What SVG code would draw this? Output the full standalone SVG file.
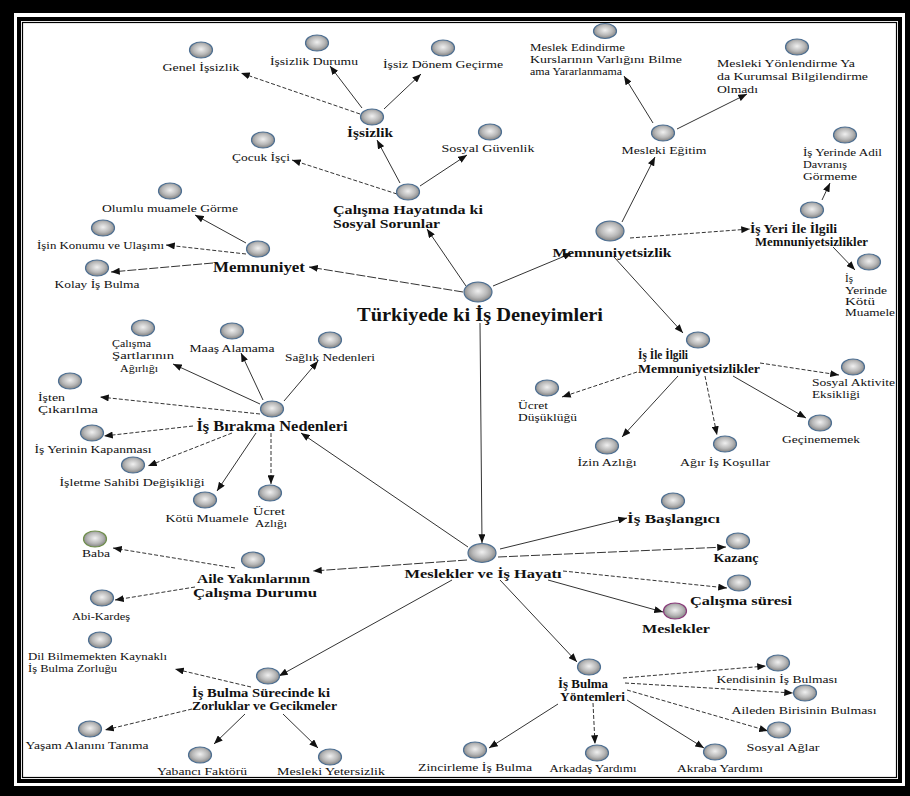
<svg xmlns="http://www.w3.org/2000/svg" width="910" height="796" viewBox="0 0 910 796">
<defs>
<radialGradient id="g" cx="50%" cy="45%" r="60%">
<stop offset="0" stop-color="#f0f0f0"/>
<stop offset="0.55" stop-color="#b8b8b8"/>
<stop offset="1" stop-color="#767676"/>
</radialGradient>
<marker id="ah" viewBox="0 0 10 8" refX="10" refY="4" markerWidth="9" markerHeight="7" markerUnits="userSpaceOnUse" orient="auto"><path d="M0,0 L10,4 L0,8 z" fill="#111"/></marker>
<style>
.n ellipse{fill:url(#g);stroke:#4d6f92;stroke-width:1.2}
text{font-family:"Liberation Serif","Times New Roman",serif;fill:#111}
.t{font-size:11px}
.b{font-size:12.5px;font-weight:bold}
.bs{font-size:11.5px;font-weight:bold}
.bm{font-size:14px;font-weight:bold}
.tt{font-size:18px;font-weight:bold}
.m{text-anchor:middle}
.e path{stroke:#333;stroke-width:1;fill:none;marker-end:url(#ah)}
.e path.d{stroke-dasharray:4 2}
.e path.dl{stroke-dasharray:9 2}
</style>
</defs>
<rect width="910" height="796" fill="#000"/>
<rect x="14" y="13" width="891" height="773" fill="#fff"/>
<rect x="19" y="19" width="881" height="762" fill="none" stroke="#000" stroke-width="4"/>
<rect x="22.5" y="22.5" width="874" height="755" fill="none" stroke="#000" stroke-width="1.2"/>

<g id="connectors" class="e">
<path d="M466,286 L427,229"/>
<path d="M493,286 L572,253"/>
<path class="dl" d="M463,292 L309,267"/>
<path d="M400,183 L377,140"/>
<path d="M420,186 L467,155"/>
<path class="d" d="M397,194 L292,160"/>
<path class="d" d="M360,114 L241,73"/>
<path d="M362,108 L330,66"/>
<path d="M384,109 L421,74"/>
<path d="M246,243 L195,215"/>
<path class="d" d="M246,254 L166,245"/>
<path class="dl" d="M213,263 L111,272"/>
<path d="M622,222 L655,157"/>
<path d="M653,123 L624,76"/>
<path d="M677,129 L747,94"/>
<path class="d" d="M630,238 L750,229"/>
<path d="M822,200 L830,183"/>
<path d="M833,247 L855,270"/>
<path d="M614,257 L683,333"/>
<path class="d" d="M760,363 L839,375"/>
<path d="M733,376 L806,418"/>
<path class="d" d="M705,376 L717,435"/>
<path d="M678,376 L622,437"/>
<path class="d" d="M637,372 L562,397"/>
<path d="M480,323 L482,543"/>
<path d="M468,547 L301,433"/>
<path d="M260,404 L173,364"/>
<path d="M263,400 L241,353"/>
<path d="M284,401 L318,361"/>
<path class="d" d="M260,414 L100,397"/>
<path class="d" d="M193,426 L104,436"/>
<path class="d" d="M232,433 L148,466"/>
<path d="M256,433 L217,491"/>
<path class="d" d="M271,433 L271,484"/>
<path class="dl" d="M467,560 L313,571"/>
<path class="d" d="M235,568 L113,548"/>
<path class="d" d="M195,587 L115,600"/>
<path d="M452,580 L279,676"/>
<path class="d" d="M251,687 L175,669"/>
<path class="d" d="M192,709 L105,730"/>
<path d="M245,714 L214,744"/>
<path d="M283,714 L318,748"/>
<path d="M500,580 L577,662"/>
<path d="M558,704 L489,748"/>
<path class="d" d="M593,703 L595,744"/>
<path d="M627,700 L704,748"/>
<path class="d" d="M627,690 L768,731"/>
<path class="d" d="M625,683 L793,693"/>
<path class="d" d="M623,678 L766,666"/>
<path d="M500,549 L627,518"/>
<path class="dl" d="M498,557 L726,547"/>
<path class="d" d="M563,571 L727,588"/>
<path d="M548,580 L663,612"/>
</g>

<g id="genel-issizlik" class="n"><ellipse cx="201" cy="50" rx="11.5" ry="8"/><text class="t m" x="201" y="71" textLength="77" lengthAdjust="spacingAndGlyphs">Genel İşsizlik</text></g>
<g id="issizlik-durumu" class="n"><ellipse cx="317" cy="43" rx="11.5" ry="8"/><text class="t m" x="314" y="65" textLength="88" lengthAdjust="spacingAndGlyphs">İşsizlik Durumu</text></g>
<g id="issiz-donem" class="n"><ellipse cx="443" cy="48" rx="11.5" ry="8"/><text class="t m" x="443" y="68" textLength="120" lengthAdjust="spacingAndGlyphs">İşsiz Dönem Geçirme</text></g>
<g id="issizlik" class="n"><ellipse cx="372" cy="117" rx="11.5" ry="8"/><text class="b m" x="370" y="137" textLength="46" lengthAdjust="spacingAndGlyphs">İşsizlik</text></g>
<g id="cocuk-isci" class="n"><ellipse cx="263" cy="140" rx="11.5" ry="8"/><text class="t m" x="261" y="161" textLength="58" lengthAdjust="spacingAndGlyphs">Çocuk İşçi</text></g>
<g id="sosyal-guvenlik" class="n"><ellipse cx="490" cy="132" rx="11.5" ry="8"/><text class="t m" x="488" y="152" textLength="93" lengthAdjust="spacingAndGlyphs">Sosyal Güvenlik</text></g>
<g id="calisma-hayati" class="n"><ellipse cx="408" cy="192" rx="11.5" ry="8"/><text class="b" x="333" y="214" textLength="150" lengthAdjust="spacingAndGlyphs">Çalışma Hayatında ki</text><text class="b" x="333" y="228" textLength="107" lengthAdjust="spacingAndGlyphs">Sosyal Sorunlar</text></g>
<g id="olumlu-muamele" class="n"><ellipse cx="170" cy="191" rx="11.5" ry="8"/><text class="t m" x="170" y="212" textLength="136" lengthAdjust="spacingAndGlyphs">Olumlu muamele Görme</text></g>
<g id="isin-konumu" class="n"><ellipse cx="103" cy="228" rx="11.5" ry="8"/><text class="t" x="37" y="249" textLength="127" lengthAdjust="spacingAndGlyphs">İşin Konumu ve Ulaşımı</text></g>
<g id="kolay-is" class="n"><ellipse cx="97" cy="268" rx="11.5" ry="8"/><text class="t m" x="97" y="288" textLength="85" lengthAdjust="spacingAndGlyphs">Kolay İş Bulma</text></g>
<g id="memnuniyet" class="n"><ellipse cx="258" cy="249" rx="11.5" ry="8"/><text class="bm m" x="259" y="272" textLength="92" lengthAdjust="spacingAndGlyphs">Memnuniyet</text></g>
<g id="turkiye" class="n"><ellipse cx="478" cy="292" rx="14" ry="10"/><text class="tt m" x="480" y="321" textLength="246" lengthAdjust="spacingAndGlyphs">Türkiyede ki İş Deneyimleri</text></g>
<g id="memnuniyetsizlik" class="n"><ellipse cx="610" cy="231" rx="14" ry="10"/><text class="b m" x="612" y="257" textLength="119" lengthAdjust="spacingAndGlyphs">Memnuniyetsizlik</text></g>
<g id="mesleki-egitim" class="n"><ellipse cx="663" cy="133" rx="11.5" ry="8"/><text class="t m" x="664" y="154" textLength="85" lengthAdjust="spacingAndGlyphs">Mesleki Eğitim</text></g>
<g id="meslek-edindirme" class="n"><ellipse cx="605" cy="31" rx="11.5" ry="7.5"/><text class="t" x="530" y="51" textLength="95" lengthAdjust="spacingAndGlyphs">Meslek Edindirme</text><text class="t" x="530" y="63" textLength="152" lengthAdjust="spacingAndGlyphs">Kurslarının Varlığını Bilme</text><text class="t" x="530" y="75" textLength="92" lengthAdjust="spacingAndGlyphs">ama Yararlanmama</text></g>
<g id="mesleki-yonlendirme" class="n"><ellipse cx="797" cy="47" rx="11.5" ry="8"/><text class="t" x="717" y="67" textLength="138" lengthAdjust="spacingAndGlyphs">Mesleki Yönlendirme Ya</text><text class="t" x="717" y="80" textLength="151" lengthAdjust="spacingAndGlyphs">da Kurumsal Bilgilendirme</text><text class="t" x="717" y="93" textLength="41" lengthAdjust="spacingAndGlyphs">Olmadı</text></g>
<g id="adil-davranis" class="n"><ellipse cx="845" cy="135" rx="11.5" ry="8"/><text class="t" x="803" y="156" textLength="79" lengthAdjust="spacingAndGlyphs">İş Yerinde Adil</text><text class="t" x="803" y="168" textLength="44" lengthAdjust="spacingAndGlyphs">Davranış</text><text class="t" x="803" y="180" textLength="54" lengthAdjust="spacingAndGlyphs">Görmeme</text></g>
<g id="is-yeri-ilgili" class="n"><ellipse cx="812" cy="210" rx="11.5" ry="8"/><text class="b" x="750" y="233" textLength="87" lengthAdjust="spacingAndGlyphs">İş Yeri İle İlgili</text><text class="b" x="755" y="246" textLength="113" lengthAdjust="spacingAndGlyphs">Memnuniyetsizlikler</text></g>
<g id="is-yerinde-kotu" class="n"><ellipse cx="869" cy="262" rx="11.5" ry="8"/><text class="t" x="845" y="282" textLength="8" lengthAdjust="spacingAndGlyphs">İş</text><text class="t" x="845" y="294" textLength="42" lengthAdjust="spacingAndGlyphs">Yerinde</text><text class="t" x="845" y="305" textLength="30" lengthAdjust="spacingAndGlyphs">Kötü</text><text class="t" x="845" y="316" textLength="50" lengthAdjust="spacingAndGlyphs">Muamele</text></g>
<g id="is-ile-ilgili" class="n"><ellipse cx="698" cy="340" rx="11.5" ry="8"/><text class="bs" x="638" y="359" textLength="50" lengthAdjust="spacingAndGlyphs">İş İle İlgili</text><text class="bs" x="638" y="373" textLength="122" lengthAdjust="spacingAndGlyphs">Memnuniyetsizlikler</text></g>
<g id="sosyal-aktivite" class="n"><ellipse cx="853" cy="367" rx="11.5" ry="8"/><text class="t" x="812" y="386" textLength="83" lengthAdjust="spacingAndGlyphs">Sosyal Aktivite</text><text class="t" x="812" y="398" textLength="48" lengthAdjust="spacingAndGlyphs">Eksikliği</text></g>
<g id="gecinememek" class="n"><ellipse cx="820" cy="423" rx="11.5" ry="8"/><text class="t m" x="821" y="443" textLength="78" lengthAdjust="spacingAndGlyphs">Geçinememek</text></g>
<g id="agir-is" class="n"><ellipse cx="725" cy="444" rx="11.5" ry="8"/><text class="t m" x="725" y="466" textLength="90" lengthAdjust="spacingAndGlyphs">Ağır İş Koşullar</text></g>
<g id="izin-azligi" class="n"><ellipse cx="607" cy="446" rx="11.5" ry="8"/><text class="t m" x="607" y="466" textLength="59" lengthAdjust="spacingAndGlyphs">İzin Azlığı</text></g>
<g id="ucret-dusuklugu" class="n"><ellipse cx="547" cy="388" rx="11.5" ry="8"/><text class="t" x="518" y="409" textLength="30" lengthAdjust="spacingAndGlyphs">Ücret</text><text class="t" x="518" y="421" textLength="59" lengthAdjust="spacingAndGlyphs">Düşüklüğü</text></g>
<g id="is-birakma" class="n"><ellipse cx="272" cy="409" rx="11.5" ry="8"/><text class="bm m" x="272" y="431" textLength="151" lengthAdjust="spacingAndGlyphs">İş Bırakma Nedenleri</text></g>
<g id="calisma-sartlari" class="n"><ellipse cx="143" cy="328" rx="11.5" ry="8"/><text class="t" x="112" y="347" textLength="39" lengthAdjust="spacingAndGlyphs">Çalışma</text><text class="t" x="112" y="359" textLength="62" lengthAdjust="spacingAndGlyphs">Şartlarının</text><text class="t" x="120" y="372" textLength="38" lengthAdjust="spacingAndGlyphs">Ağırlığı</text></g>
<g id="maas-alamama" class="n"><ellipse cx="232" cy="331" rx="11.5" ry="8"/><text class="t m" x="232" y="352" textLength="85" lengthAdjust="spacingAndGlyphs">Maaş Alamama</text></g>
<g id="saglik" class="n"><ellipse cx="330" cy="340" rx="11.5" ry="8"/><text class="t m" x="330" y="361" textLength="90" lengthAdjust="spacingAndGlyphs">Sağlık Nedenleri</text></g>
<g id="isten-cikarilma" class="n"><ellipse cx="70" cy="381" rx="11.5" ry="8"/><text class="t" x="38" y="401" textLength="27" lengthAdjust="spacingAndGlyphs">İşten</text><text class="t" x="38" y="413" textLength="60" lengthAdjust="spacingAndGlyphs">Çıkarılma</text></g>
<g id="is-yerinin-kapanmasi" class="n"><ellipse cx="92" cy="433" rx="11.5" ry="8"/><text class="t m" x="93" y="453" textLength="117" lengthAdjust="spacingAndGlyphs">İş Yerinin Kapanması</text></g>
<g id="isletme-sahibi" class="n"><ellipse cx="133" cy="465" rx="11.5" ry="8"/><text class="t m" x="132" y="486" textLength="145" lengthAdjust="spacingAndGlyphs">İşletme Sahibi Değişikliği</text></g>
<g id="kotu-muamele" class="n"><ellipse cx="205" cy="500" rx="11.5" ry="8"/><text class="t m" x="207" y="522" textLength="83" lengthAdjust="spacingAndGlyphs">Kötü Muamele</text></g>
<g id="ucret-azligi" class="n"><ellipse cx="270" cy="493" rx="11.5" ry="8"/><text class="t m" x="269" y="515" textLength="32" lengthAdjust="spacingAndGlyphs">Ücret</text><text class="t m" x="271" y="527" textLength="32" lengthAdjust="spacingAndGlyphs">Azlığı</text></g>
<g id="baba" class="n"><ellipse cx="95" cy="539" rx="11.5" ry="8" style="stroke:#6f8f4a"/><text class="t m" x="96" y="557" textLength="28" lengthAdjust="spacingAndGlyphs">Baba</text></g>
<g id="aile-yakinlari" class="n"><ellipse cx="253" cy="560" rx="11.5" ry="8"/><text class="b" x="197" y="583" textLength="113" lengthAdjust="spacingAndGlyphs">Aile Yakınlarının</text><text class="b" x="193" y="597" textLength="124" lengthAdjust="spacingAndGlyphs">Çalışma Durumu</text></g>
<g id="abi-kardes" class="n"><ellipse cx="102" cy="598" rx="11.5" ry="8"/><text class="t m" x="101" y="620" textLength="58" lengthAdjust="spacingAndGlyphs">Abi-Kardeş</text></g>
<g id="dil-bilmemek" class="n"><ellipse cx="100" cy="640" rx="11.5" ry="8"/><text class="t" x="28" y="660" textLength="139" lengthAdjust="spacingAndGlyphs">Dil Bilmemekten Kaynaklı</text><text class="t" x="28" y="672" textLength="89" lengthAdjust="spacingAndGlyphs">İş Bulma Zorluğu</text></g>
<g id="is-bulma-surecinde" class="n"><ellipse cx="268" cy="676" rx="11.5" ry="8"/><text class="b" x="192" y="697" textLength="138" lengthAdjust="spacingAndGlyphs">İş Bulma Sürecinde ki</text><text class="b" x="192" y="710" textLength="145" lengthAdjust="spacingAndGlyphs">Zorluklar ve Gecikmeler</text></g>
<g id="yasam-alani" class="n"><ellipse cx="90" cy="729" rx="11.5" ry="8"/><text class="t m" x="87" y="749" textLength="123" lengthAdjust="spacingAndGlyphs">Yaşam Alanını Tanıma</text></g>
<g id="yabanci-faktoru" class="n"><ellipse cx="200" cy="755" rx="11.5" ry="8"/><text class="t m" x="202" y="775" textLength="90" lengthAdjust="spacingAndGlyphs">Yabancı Faktörü</text></g>
<g id="mesleki-yetersizlik" class="n"><ellipse cx="330" cy="757" rx="11.5" ry="8"/><text class="t m" x="331" y="775" textLength="108" lengthAdjust="spacingAndGlyphs">Mesleki Yetersizlik</text></g>
<g id="meslekler-is-hayati" class="n"><ellipse cx="482" cy="553" rx="14" ry="9.5"/><text class="b m" x="483" y="578" textLength="157" lengthAdjust="spacingAndGlyphs">Meslekler ve İş Hayatı</text></g>
<g id="is-baslangici" class="n"><ellipse cx="673" cy="501" rx="11.5" ry="8"/><text class="b" x="627" y="523" textLength="93" lengthAdjust="spacingAndGlyphs">İş Başlangıcı</text></g>
<g id="kazanc" class="n"><ellipse cx="738" cy="541" rx="11.5" ry="8"/><text class="b m" x="736" y="562" textLength="45" lengthAdjust="spacingAndGlyphs">Kazanç</text></g>
<g id="calisma-suresi" class="n"><ellipse cx="739" cy="583" rx="11.5" ry="8"/><text class="b m" x="741" y="605" textLength="102" lengthAdjust="spacingAndGlyphs">Çalışma süresi</text></g>
<g id="meslekler" class="n"><ellipse cx="675" cy="611" rx="11.5" ry="8" style="stroke:#8a3a7a"/><text class="b m" x="676" y="633" textLength="68" lengthAdjust="spacingAndGlyphs">Meslekler</text></g>
<g id="is-bulma-yontemleri" class="n"><ellipse cx="589" cy="667" rx="11.5" ry="8"/><text class="b" x="558" y="688" textLength="50" lengthAdjust="spacingAndGlyphs">İş Bulma</text><text class="b" x="560" y="701" textLength="65" lengthAdjust="spacingAndGlyphs">Yöntemleri</text></g>
<g id="kendisinin" class="n"><ellipse cx="778" cy="663" rx="11.5" ry="8"/><text class="t m" x="777" y="683" textLength="121" lengthAdjust="spacingAndGlyphs">Kendisinin İş Bulması</text></g>
<g id="aileden-birisi" class="n"><ellipse cx="805" cy="693" rx="11.5" ry="8"/><text class="t m" x="804" y="714" textLength="145" lengthAdjust="spacingAndGlyphs">Aileden Birisinin Bulması</text></g>
<g id="sosyal-aglar" class="n"><ellipse cx="779" cy="730" rx="11.5" ry="8"/><text class="t m" x="783" y="751" textLength="73" lengthAdjust="spacingAndGlyphs">Sosyal Ağlar</text></g>
<g id="akraba" class="n"><ellipse cx="715" cy="752" rx="11.5" ry="8"/><text class="t m" x="720" y="772" textLength="86" lengthAdjust="spacingAndGlyphs">Akraba Yardımı</text></g>
<g id="arkadas" class="n"><ellipse cx="597" cy="753" rx="11.5" ry="8"/><text class="t m" x="593" y="772" textLength="87" lengthAdjust="spacingAndGlyphs">Arkadaş Yardımı</text></g>
<g id="zincirleme" class="n"><ellipse cx="475" cy="750" rx="11.5" ry="8"/><text class="t m" x="475" y="771" textLength="114" lengthAdjust="spacingAndGlyphs">Zincirleme İş Bulma</text></g>
</svg>
